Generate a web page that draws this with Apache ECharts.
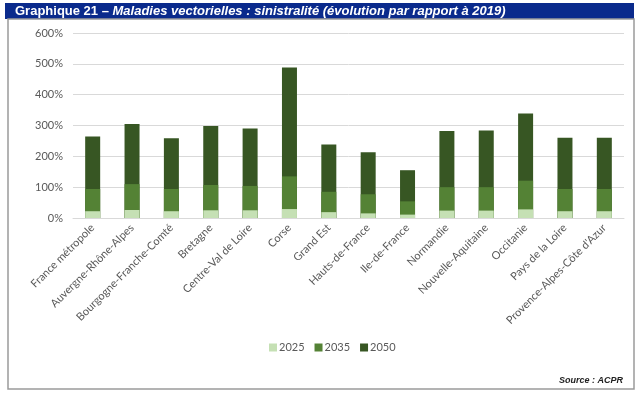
<!DOCTYPE html>
<html>
<head>
<meta charset="utf-8">
<script src="https://cdn.jsdelivr.net/npm/echarts@6/dist/echarts.min.js"></script>
<style>
  html, body { margin: 0; padding: 0; background: #fff; }
  #chart { width: 643px; height: 396px; }
</style>
</head>
<body>
<div id="chart"></div>
<script>
// régions
var regions = [
  "France métropole", "Auvergne-Rhône-Alpes", "Bourgogne-Franche-Comté", "Bretagne",
  "Centre-Val de Loire", "Corse", "Grand Est", "Hauts-de-France", "Ile-de-France",
  "Normandie", "Nouvelle-Aquitaine", "Occitanie", "Pays de la Loire", "Provence-Alpes-Côte d'Azur"
];
// évolution par rapport à 2019, en %
var v2025 = [22, 26, 22, 25, 25, 29, 19, 15, 11, 24, 24, 28, 22, 22];
var v2035 = [94, 110, 94, 107, 104, 135, 85, 77, 54, 100, 100, 121, 94, 94];
var v2050 = [264, 305, 259, 298, 290, 488, 238, 213, 155, 282, 284, 339, 260, 260];
var yTicks = [0, 100, 200, 300, 400, 500, 600];

var FONT = "Lato";
var myChart = echarts.init(document.getElementById("chart"));

myChart.setOption({
  animation: false,
  textStyle: { fontFamily: FONT },
  title: {
    text: "{a|Graphique 21 – }{b|Maladies vectorielles : sinistralité (évolution par rapport à 2019)}",
    left: 15,
    top: 4,
    padding: 0,
    textStyle: {
      rich: {
        a: { color: "#fff", fontFamily: "Liberation Sans", fontWeight: "bold", fontSize: 13, lineHeight: 14 },
        b: { color: "#fff", fontFamily: "Liberation Sans", fontWeight: "bold", fontStyle: "italic", fontSize: 13, lineHeight: 14 }
      }
    }
  },
  graphic: [
    {
      type: "rect", z: -10, silent: true,
      shape: { x: 5, y: 3, width: 629, height: 16 },
      style: { fill: "#0a2a8c" }
    },
    {
      type: "rect", z: -10, silent: true,
      shape: { x: 8, y: 19, width: 626, height: 370 },
      style: { fill: "none", stroke: "#9a9a9a", lineWidth: 1.5 }
    },
    {
      type: "text", right: 20, top: 376,
      style: {
        text: "Source : ACPR",
        fontFamily: "Liberation Sans", fontStyle: "italic", fontWeight: "bold",
        fontSize: 9, fill: "#222"
      }
    }
  ],
  legend: {
    data: ["2025", "2035", "2050"],
    left: 264,
    top: 337,
    itemWidth: 8,
    itemHeight: 8,
    itemGap: 10,
    icon: "rect",
    textStyle: { color: "#595959", fontSize: 11, padding: [0, 0, 0, -3] }
  },
  grid: { left: 73, right: 19, top: 33, bottom: 178 },
  xAxis: {
    type: "category",
    data: regions,
    axisLine: { lineStyle: { color: "#d9d9d9", width: 1 } },
    axisTick: { show: false },
    axisLabel: { interval: 0, rotate: 45, color: "#595959", fontSize: 11, margin: 8 }
  },
  yAxis: {
    type: "value",
    min: yTicks[0],
    max: yTicks[yTicks.length - 1],
    interval: 100,
    axisLine: { show: false },
    axisTick: { show: false },
    splitLine: { lineStyle: { color: "#d9d9d9", width: 1 } },
    axisLabel: { color: "#595959", fontSize: 11, margin: 10, formatter: "{value}%" }
  },
  series: [
    { name: "2050", type: "bar", data: v2050, barWidth: 15, barGap: "-100%",
      itemStyle: { color: "#375623" } },
    { name: "2035", type: "bar", data: v2035, barWidth: 15, barGap: "-100%",
      itemStyle: { color: "#548235" } },
    { name: "2025", type: "bar", data: v2025, barWidth: 15, barGap: "-100%",
      itemStyle: { color: "#c5e0b4" } }
  ]
});
</script>
</body>
</html>
